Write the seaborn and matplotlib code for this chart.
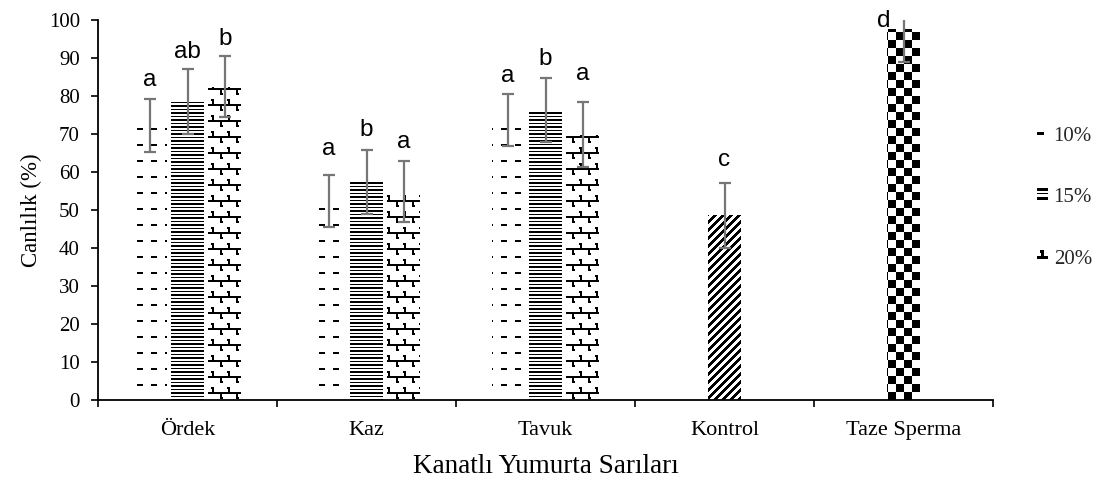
import numpy as np
import pandas as pd
import matplotlib
matplotlib.use("Agg")
import matplotlib.pyplot as plt
import seaborn as sns
from matplotlib.patches import Patch
from matplotlib.legend_handler import HandlerBase
from matplotlib.image import BboxImage
from matplotlib.transforms import Bbox, TransformedBbox

groups = ["Ördek", "Kaz", "Tavuk", "Kontrol", "Taze Sperma"]
yolk_groups = ["Ördek", "Kaz", "Tavuk"]
levels = ["10%", "15%", "20%"]

# viability (%) means and standard deviations for each yolk source / level
mean_10 = [72.2, 52.4, 73.6]
mean_15 = [78.6, 57.3, 76.3]
mean_20 = [82.4, 54.9, 69.8]
sd_10 = [7.0, 6.8, 6.8]
sd_15 = [8.5, 8.4, 8.5]
sd_20 = [8.0, 8.0, 8.6]
letters_10 = ["a", "a", "a"]
letters_15 = ["ab", "b", "b"]
letters_20 = ["b", "a", "a"]

ref_groups = ["Kontrol", "Taze Sperma"]
ref_mean = [48.6, 97.6]
ref_sd = [8.6, 8.6]
ref_letters = ["c", "d"]

x_title = "Kanatlı Yumurta Sarıları"
y_title = "Canlılık (%)"
y_ticks = list(range(0, 101, 10))

# ---------------------------------------------------------------- tables
yolk = pd.DataFrame({
    "group": yolk_groups * 3,
    "level": [levels[0]] * 3 + [levels[1]] * 3 + [levels[2]] * 3,
    "value": mean_10 + mean_15 + mean_20,
    "sd": sd_10 + sd_15 + sd_20,
    "letter": letters_10 + letters_15 + letters_20,
})
ref = pd.DataFrame({"group": ref_groups, "value": ref_mean,
                    "sd": ref_sd, "letter": ref_letters})

sns.set_theme(style="white")
plt.rcParams["font.family"] = ["Liberation Serif", "DejaVu Serif"]

fig = plt.figure(figsize=(10.99, 4.8), dpi=100)
ax = fig.add_axes([98 / 1099, 80 / 480, (993 - 98) / 1099, 380 / 480])

sns.barplot(data=yolk, x="group", y="value", hue="level", order=groups,
            hue_order=levels, width=0.626, gap=0.12, errorbar=None,
            palette=["white"] * 3, edgecolor="none", linewidth=0,
            legend=False, ax=ax)
sns.barplot(data=ref, x="group", y="value", order=groups, width=0.184,
            color="white", errorbar=None, edgecolor="none", linewidth=0,
            ax=ax)

ax.set_xlim(-0.5, len(groups) - 0.5)
ax.set_ylim(0, 100)
ax.set_autoscale_on(False)


# ---------------------------------------------------------------- fills
def pattern(kind, R, C):
    """Black/white fill patterns laid on the pixel grid (True = black)."""
    if kind == "dash":
        return ((R % 16) < 2) & (((C + 3) % 14) < 6)
    if kind == "lines":
        return np.isin(R % 7, [0, 1, 4])
    if kind == "brick":
        r, c = R % 16, C % 16
        line = np.isin(r, [8, 9])
        up = np.isin(c, [4, 5]) & (r >= 3) & (r <= 7)
        up_hook = (c == 3) & np.isin(r, [3, 4])
        down = np.isin(c, [12, 13]) & (r >= 10) & (r <= 14)
        down_hook = (c == 14) & np.isin(r, [13, 14])
        return line | up | up_hook | down | down_hook
    if kind == "diag":
        return ((C + R) % 8) < 4
    if kind == "check":
        return ((R // 8 + C // 8) % 2) == 0
    return np.zeros_like(R, dtype=bool)


level_fill = {"10%": "dash", "15%": "lines", "20%": "brick"}
ref_fill = {"Kontrol": "diag", "Taze Sperma": "check"}

H = fig.bbox.height
inv = ax.transData.inverted()


def fill_bar(bar, kind):
    bb = bar.get_window_extent()
    x0, x1 = int(round(bb.x0)), int(round(bb.x1))
    top, bottom = int(round(H - bb.y1)), int(round(H - bb.y0))
    if x1 <= x0 or bottom <= top:
        return
    C, R = np.meshgrid(np.arange(x0, x1), np.arange(top, bottom))
    img = np.where(pattern(kind, R, C), 0.0, 1.0)
    dx0, dy0 = inv.transform((x0, H - bottom))
    dx1, dy1 = inv.transform((x1, H - top))
    im = ax.imshow(img, cmap="gray", vmin=0, vmax=1, origin="upper",
                   extent=(dx0, dx1, dy0, dy1), interpolation="nearest",
                   aspect="auto", zorder=bar.get_zorder() + 0.1)
    im.set_clip_path(bar)


# bars: first three containers are the yolk levels, last one the references
bar_info = []
for lev, cont in zip(levels, ax.containers[:3]):
    sub = yolk[yolk["level"] == lev]
    for bar in cont:
        gi = int(round(bar.get_x() + bar.get_width() / 2))
        row = sub[sub["group"] == groups[gi]].iloc[0]
        fill_bar(bar, level_fill[lev])
        bar_info.append((bar, row))
for bar in ax.containers[3]:
    gi = int(round(bar.get_x() + bar.get_width() / 2))
    row = ref[ref["group"] == groups[gi]].iloc[0]
    fill_bar(bar, ref_fill[groups[gi]])
    bar_info.append((bar, row))

# vertical gap (points) between error-bar top and letter baseline
lift = {("Ördek", "10%"): 9.5, ("Ördek", "15%"): 8, ("Ördek", "20%"): 8,
        ("Kaz", "10%"): 14.5, ("Kaz", "15%"): 10, ("Kaz", "20%"): 9.5,
        ("Tavuk", "10%"): 9, ("Tavuk", "15%"): 9, ("Tavuk", "20%"): 16,
        ("Kontrol", None): 12}
letter_font = dict(fontsize=17.5, family="Liberation Sans", color="black")

for bar, row in bar_info:
    xc = bar.get_x() + bar.get_width() / 2
    h = bar.get_height()
    ax.errorbar(xc, h, yerr=row["sd"], fmt="none", ecolor="#767676",
                elinewidth=1.6, capsize=4.3, capthick=1.6, zorder=6)
    top = h + row["sd"]
    key = (row["group"], row["level"] if "level" in row.index else None)
    if top > 100:
        ax.annotate(row["letter"], (xc, 100), xytext=(-14, -4.8),
                    textcoords="offset points", ha="center", va="baseline",
                    annotation_clip=False, zorder=7, **letter_font)
    else:
        ax.annotate(row["letter"], (xc, top), xytext=(0, lift.get(key, 8)),
                    textcoords="offset points", ha="center", va="baseline",
                    annotation_clip=False, zorder=7, **letter_font)

# ---------------------------------------------------------------- axes
ax.set_xlim(-0.5, len(groups) - 0.5)
ax.set_ylim(0, 100)
ax.set_yticks(y_ticks)
ax.set_yticklabels([str(t) for t in y_ticks], fontsize=15)
ax.set_xticks(np.arange(-0.5, len(groups), 1.0))
ax.set_xticklabels([])
ax.set_xticks(np.arange(len(groups)), minor=True)
ax.set_xticklabels(groups, minor=True, fontsize=16)
ax.tick_params(axis="y", which="major", direction="out", length=5,
               width=1.2, color="black", pad=8, labelcolor="black", left=True)
ax.tick_params(axis="x", which="major", direction="out", length=5,
               width=1.2, color="black", bottom=True)
ax.tick_params(axis="x", which="minor", length=0, pad=15,
               labelcolor="black")
for side in ("top", "right"):
    ax.spines[side].set_visible(False)
for side in ("left", "bottom"):
    ax.spines[side].set_color("black")
    ax.spines[side].set_linewidth(1.3)
ax.set_xlabel(x_title, fontsize=19.5, labelpad=10, color="black")
ax.set_ylabel(y_title, fontsize=16.5, labelpad=5, color="black")


# ---------------------------------------------------------------- legend
class TextureHandler(HandlerBase):
    """Legend key showing a small piece of a bar's fill pattern."""

    def __init__(self, kind, r0=0, c0=0):
        super().__init__()
        self.kind, self.r0, self.c0 = kind, r0, c0

    def create_artists(self, legend, orig_handle, xdescent, ydescent,
                       width, height, fontsize, trans):
        box = TransformedBbox(
            Bbox.from_bounds(-xdescent, -ydescent, width, height), trans)
        R, C = np.mgrid[0:10, 0:10]
        img = np.where(pattern(self.kind, R + self.r0, C + self.c0), 0.0, 1.0)
        im = BboxImage(box, cmap="gray", norm=plt.Normalize(0, 1),
                       interpolation="nearest", origin="upper")
        im.set_data(img)
        return [im]


handles = [Patch(facecolor="white") for _ in levels]
handler_map = {
    handles[0]: TextureHandler("dash", r0=12, c0=11),
    handles[1]: TextureHandler("lines", r0=0, c0=0),
    handles[2]: TextureHandler("brick", r0=3, c0=0),
}
fig.legend(handles, levels, handler_map=handler_map, loc="center left",
           bbox_to_anchor=(1037 / 1099, 1 - 198 / 480), frameon=False,
           fontsize=15, handlelength=0.5, handleheight=0.55,
           handletextpad=0.3, labelspacing=2.05, borderpad=0,
           borderaxespad=0)

fig.savefig("out.png", dpi=100, facecolor="white")
